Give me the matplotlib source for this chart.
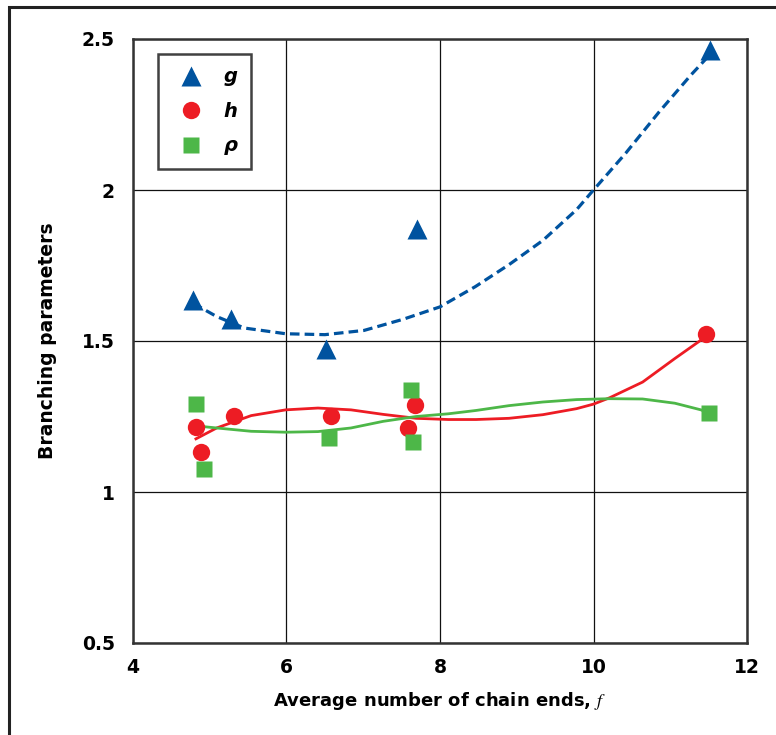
import numpy as np
import matplotlib
matplotlib.use("Agg")
import matplotlib.pyplot as plt
from matplotlib.patches import Rectangle

plt.rcParams['font.family'] = ['DejaVu Sans']
plt.rcParams['mathtext.fontset'] = 'stix'

# Data points
g_x = [4.78, 5.28, 6.51, 7.70, 11.52]
g_y = [1.635, 1.573, 1.474, 1.870, 2.465]
h_x = [4.82, 4.88, 5.32, 6.58, 7.58, 7.67, 11.47]
h_y = [1.214, 1.133, 1.251, 1.251, 1.212, 1.288, 1.523]
r_x = [4.82, 4.92, 6.55, 7.62, 7.65, 11.50]
r_y = [1.292, 1.076, 1.179, 1.339, 1.167, 1.261]

# Trend curves
g_fit_x = [4.80, 4.88, 5.09, 5.45, 5.99, 6.50, 7.01, 7.52, 8.00, 8.46, 8.90,
           9.34, 9.78, 10.00, 10.42, 10.85, 11.27, 11.49]
g_fit_y = [1.630, 1.611, 1.581, 1.543, 1.524, 1.521, 1.535, 1.572, 1.613, 1.680,
           1.753, 1.833, 1.935, 2.000, 2.122, 2.257, 2.381, 2.441]
h_fit_x = [4.82, 5.09, 5.54, 5.99, 6.41, 6.84, 7.26, 7.69, 8.11, 8.47, 8.90,
           9.34, 9.78, 10.00, 10.21, 10.64, 11.06, 11.40, 11.47]
h_fit_y = [1.176, 1.212, 1.253, 1.272, 1.278, 1.272, 1.257, 1.244, 1.240, 1.240,
           1.244, 1.256, 1.276, 1.291, 1.312, 1.364, 1.442, 1.503, 1.523]
r_fit_x = [4.82, 5.09, 5.54, 5.99, 6.41, 6.84, 7.26, 7.69, 8.11, 8.47, 8.90,
           9.34, 9.78, 10.21, 10.64, 11.06, 11.40, 11.50]
r_fit_y = [1.219, 1.212, 1.201, 1.198, 1.200, 1.212, 1.234, 1.250, 1.259, 1.270,
           1.286, 1.298, 1.306, 1.309, 1.308, 1.294, 1.272, 1.261]

x_ticks = [4, 6, 8, 10, 12]
y_ticks = [0.5, 1, 1.5, 2, 2.5]
y_ticklabels = ['0.5', '1', '1.5', '2', '2.5']
legend_labels = ['g', 'h', 'ρ']

blue = '#00539F'
red = '#ED1C24'
green = '#4DB748'

fig = plt.figure(figsize=(7.76, 7.35), dpi=100)
ax = fig.add_axes([133/776, 1-643/735, (747-133)/776, (643-39)/735])

ax.plot(g_fit_x, g_fit_y, color=blue, lw=2.3, ls=(0, (3, 1.6)), zorder=3)
ax.plot(h_fit_x, h_fit_y, color=red, lw=2.0, solid_joinstyle='round', zorder=3)
ax.plot(r_fit_x, r_fit_y, color=green, lw=2.0, solid_joinstyle='round', zorder=3)

ax.plot(g_x, g_y, ls='none', marker='^', ms=14, color=blue, mec='none', zorder=4)
ax.plot(h_x, h_y, ls='none', marker='o', ms=12.5, color=red, mec='none', zorder=4)
ax.plot(r_x, r_y, ls='none', marker='s', ms=12, color=green, mec='none', zorder=4)

ax.set_xlim(4, 12)
ax.set_ylim(0.5, 2.5)
ax.set_xticks(x_ticks)
ax.set_yticks(y_ticks)
ax.set_yticklabels(y_ticklabels)
ax.grid(True, color='#111111', lw=0.9)
ax.set_axisbelow(True)
ax.tick_params(length=0, labelsize=13.5)
ax.tick_params(axis='y', pad=13)
ax.tick_params(axis='x', pad=11)
for lab in ax.get_xticklabels() + ax.get_yticklabels():
    lab.set_fontweight('bold')
for s in ax.spines.values():
    s.set_linewidth(1.8)
    s.set_color('#333333')

ax.set_xlabel('Average number of chain ends, $f$', fontsize=13, fontweight='bold', labelpad=9)
ax.set_ylabel('Branching parameters', fontsize=13.5, fontweight='bold', labelpad=18)

handles = ax.get_lines()[3:6]
leg = ax.legend(handles, legend_labels, loc='upper left', bbox_to_anchor=(0.041, 0.975),
                borderaxespad=0, frameon=True, fancybox=False, edgecolor='#111111',
                labelspacing=0.8, handlelength=2.0, handletextpad=0.7,
                borderpad=0.68, prop={'weight': 'bold', 'style': 'italic', 'size': 14})
leg.get_frame().set_linewidth(1.8)

fig.patches.append(Rectangle((9/776, -0.1), 2, 1.1 - 7/735, transform=fig.transFigure,
                             fill=False, lw=2.2, edgecolor='#222222', clip_on=False))

fig.savefig('out.png', dpi=100)
